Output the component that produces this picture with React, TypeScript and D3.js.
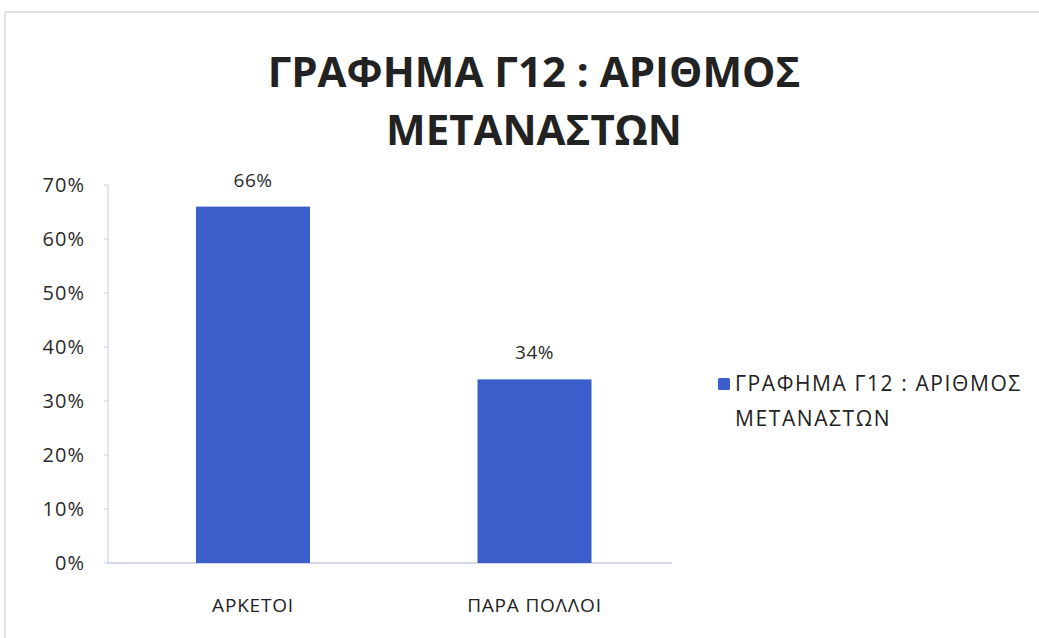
import React from "react";
import * as d3 from "d3";

const categories = ["ΑΡΚΕΤΟΙ", "ΠΑΡΑ ΠΟΛΛΟΙ"];
const values = [66, 34];
const yTicks = [0, 10, 20, 30, 40, 50, 60, 70];
const titleLines = ["ΓΡΑΦΗΜΑ Γ12 : ΑΡΙΘΜΟΣ", "ΜΕΤΑΝΑΣΤΩΝ"];
const legendLines = ["ΓΡΑΦΗΜΑ Γ12 : ΑΡΙΘΜΟΣ", "ΜΕΤΑΝΑΣΤΩΝ"];

const W = 1039;
const H = 638;
const plot = { left: 108, right: 679.5, axisEnd: 672, top: 185, bottom: 563 };
const barColor = "#3A5FCB";
const font = "'Open Sans', 'Noto Sans', sans-serif";

export default function App() {
  const x = d3
    .scaleBand<string>()
    .domain(categories)
    .range([plot.left, plot.right])
    .paddingInner(0.595)
    .paddingOuter(0.3126);
  const y = d3.scaleLinear().domain([0, 70]).range([plot.bottom, plot.top]);

  return (
    <svg
      width={W}
      height={H}
      style={{ position: "absolute", left: 0, top: 0, background: "#fff" }}
      fontFamily={font}
    >
      <rect x={0} y={0} width={W} height={H} fill="#fff" />
      <line x1={5} x2={W} y1={12} y2={12} stroke="#d6d6d6" strokeWidth={1.5} />
      <line x1={5} x2={5} y1={12} y2={H} stroke="#d8dbe6" strokeWidth={1.5} />

      {titleLines.map((t, i) => (
        <text
          key={t}
          x={534}
          y={87 + i * 58}
          textAnchor="middle"
          fontSize={42}
          fontWeight={700}
          fill="#222"
        >
          {t}
        </text>
      ))}

      <line x1={plot.left} x2={plot.left} y1={plot.top} y2={plot.bottom} stroke="#c5cbe0" />
      {yTicks.map((t) => (
        <g key={t}>
          <line x1={plot.left - 4} x2={plot.left} y1={y(t)} y2={y(t)} stroke="#c5cbe0" />
          <text
            x={85}
            y={y(t)}
            dy="0.35em"
            textAnchor="end"
            fontSize={20}
            letterSpacing={1}
            fill="#2a2a2a"
          >
            {t}%
          </text>
        </g>
      ))}
      <line x1={plot.left} x2={plot.axisEnd} y1={plot.bottom} y2={plot.bottom} stroke="#c5cbe0" strokeWidth={1.5} />

      {categories.map((c, i) => (
        <g key={c}>
          <rect
            x={x(c)!}
            y={y(values[i])}
            width={x.bandwidth()}
            height={plot.bottom - y(values[i])}
            fill={barColor}
          />
          <text
            x={x(c)! + x.bandwidth() / 2}
            y={y(values[i]) - 20}
            textAnchor="middle"
            fontSize={19}
            letterSpacing={0.5}
            fill="#2a2a2a"
          >
            {values[i]}%
          </text>
          <text
            x={x(c)! + x.bandwidth() / 2}
            y={612}
            textAnchor="middle"
            fontSize={19}
            letterSpacing={0.8}
            fill="#222"
          >
            {c}
          </text>
        </g>
      ))}

      <rect x={718} y={378} width={12} height={12} rx={1.5} fill={barColor} />
      {legendLines.map((t, i) => (
        <text key={t} x={735} y={391 + i * 35} fontSize={21} letterSpacing={1.6} fill="#222">
          {t}
        </text>
      ))}
    </svg>
  );
}
